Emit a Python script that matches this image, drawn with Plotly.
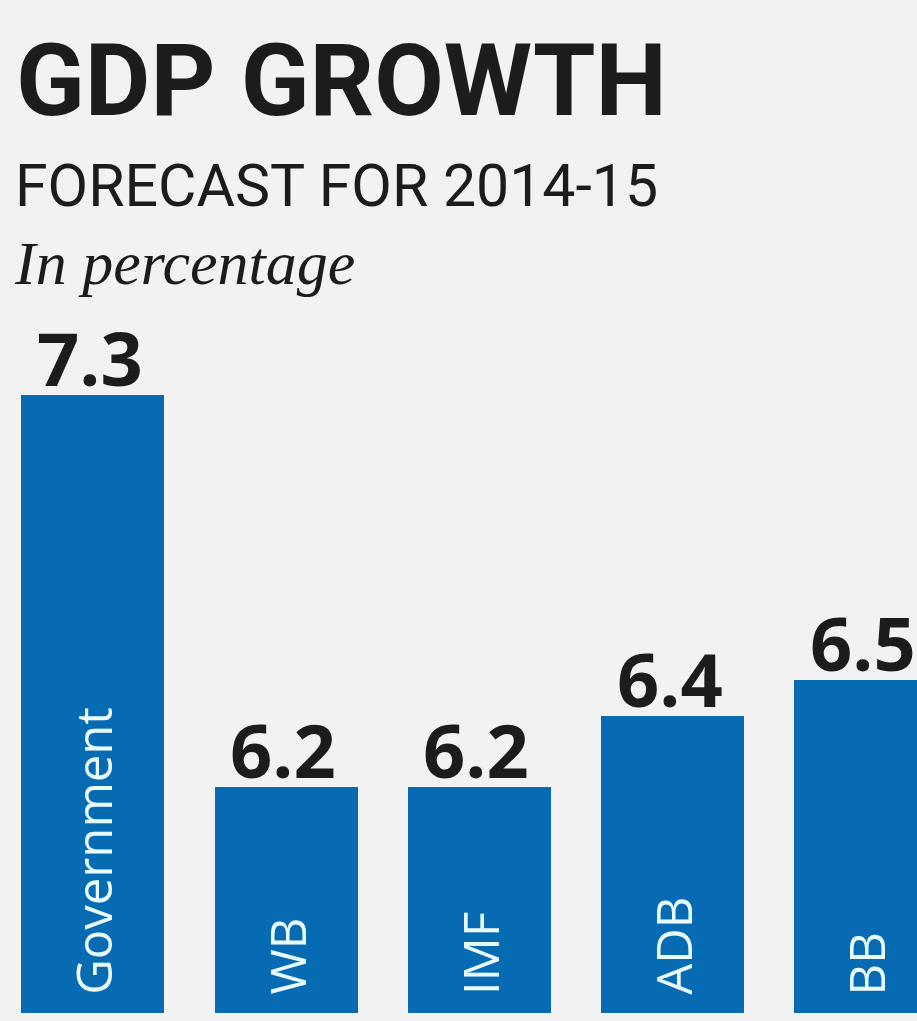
import plotly.graph_objects as go

categories = ["Government", "WB", "IMF", "ADB", "BB"]
values = [7.3, 6.2, 6.2, 6.4, 6.5]
value_labels = ["7.3", "6.2", "6.2", "6.4", "6.5"]

title = "GDP GROWTH"
subtitle = "FORECAST FOR 2014-15"
unit_note = "In percentage"

BG = "#f2f2f2"
BAR = "#076bb4"
INK = "#1c1c1c"

W, H = 917, 1021
B_MARGIN = 8
PLOT_H = H - B_MARGIN


def py(p):
    """pixel row (from top) -> paper y"""
    return (PLOT_H - p) / PLOT_H


x_idx = list(range(len(categories)))

fig = go.Figure(
    go.Bar(
        x=x_idx,
        y=values,
        width=0.74,
        marker=dict(color=BAR, line=dict(width=0)),
        hoverinfo="skip",
    )
)

annotations = []
# Title block
annotations.append(dict(
    text=title, xref="paper", yref="paper", x=14 / W, y=py(80.5),
    xanchor="left", yanchor="middle", showarrow=False,
    font=dict(family="Roboto, Open Sans, sans-serif", size=101,
              color=INK, weight="bold"),
))
annotations.append(dict(
    text=subtitle, xref="paper", yref="paper", x=13 / W, y=py(185),
    xanchor="left", yanchor="middle", showarrow=False,
    font=dict(family="Roboto, Open Sans, sans-serif", size=59,
              color=INK),
))
annotations.append(dict(
    text=f"<i>{unit_note}</i>", xref="paper", yref="paper", x=12 / W, y=py(263),
    xanchor="left", yanchor="middle", showarrow=False,
    font=dict(family="Liberation Serif, DejaVu Serif, serif", size=62, color=INK),
))

# Value labels and in-bar category labels
for i, (c, v, lab) in enumerate(zip(categories, values, value_labels)):
    annotations.append(dict(
        text=lab, x=i, y=v, xref="x", yref="y",
        xanchor="center", yanchor="middle", yshift=37, xshift=-3, showarrow=False,
        font=dict(family="Open Sans, sans-serif", size=74, color=INK, weight="bold"),
    ))
    annotations.append(dict(
        text=c, x=i, y=0, xref="x", yref="paper",
        xanchor="center", yanchor="bottom", yshift=16, textangle=-90,
        showarrow=False,
        font=dict(family="Open Sans, sans-serif", size=49, color="#e8fbff"),
    ))

fig.update_layout(
    width=W, height=H,
    margin=dict(l=0, r=0, t=0, b=B_MARGIN, pad=0),
    paper_bgcolor=BG, plot_bgcolor=BG,
    showlegend=False,
    bargap=0,
    xaxis=dict(range=[-0.48, 4.264], showgrid=False, zeroline=False,
               showticklabels=False, ticks="", showline=False, fixedrange=True),
    yaxis=dict(range=[5.565, 5.565 + PLOT_H / 356.25], showgrid=False,
               zeroline=False, showticklabels=False, ticks="", showline=False,
               fixedrange=True),
    annotations=annotations,
)

fig.write_html(
    "out.html",
    config={"displayModeBar": False},
    post_script="document.body.style.margin='0';document.body.style.overflow='hidden';"
                "document.documentElement.style.background='#f2f2f2';",
)
